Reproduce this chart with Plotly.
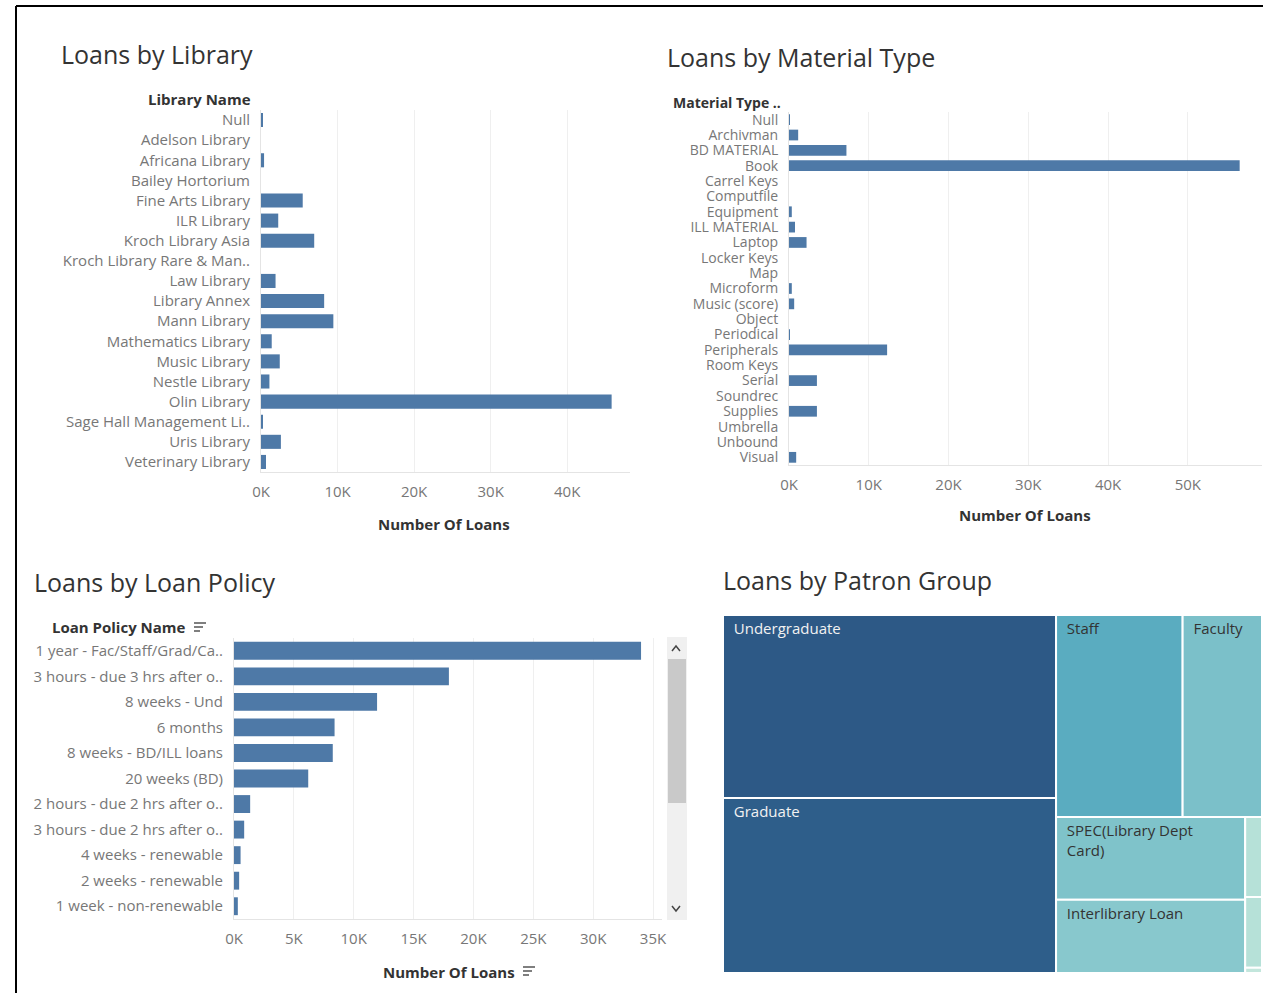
import plotly.graph_objects as go

W, H = 1263, 993
FONT = "Open Sans"

# ---------------- data ----------------
library_names = ["Null", "Adelson Library", "Africana Library", "Bailey Hortorium",
                 "Fine Arts Library", "ILR Library", "Kroch Library Asia",
                 "Kroch Library Rare & Man..", "Law Library", "Library Annex",
                 "Mann Library", "Mathematics Library", "Music Library",
                 "Nestle Library", "Olin Library", "Sage Hall Management Li..",
                 "Uris Library", "Veterinary Library"]
library_loans = [200, 0, 400, 0, 5450, 2250, 6950, 0, 1900, 8250, 9450, 1400,
                 2450, 1100, 45800, 250, 2600, 650]

material_types = ["Null", "Archivman", "BD MATERIAL", "Book", "Carrel Keys",
                  "Computfile", "Equipment", "ILL MATERIAL", "Laptop", "Locker Keys",
                  "Map", "Microform", "Music (score)", "Object", "Periodical",
                  "Peripherals", "Room Keys", "Serial", "Soundrec", "Supplies",
                  "Umbrella", "Unbound", "Visual"]
material_loans = [100, 1150, 7200, 56500, 0, 0, 350, 750, 2200, 0, 0, 350, 650,
                  0, 100, 12300, 0, 3500, 0, 3500, 0, 0, 900]

policy_names = ["1 year - Fac/Staff/Grad/Ca..", "3 hours - due 3 hrs after o..",
                "8 weeks - Und", "6 months", "8 weeks - BD/ILL loans",
                "20 weeks (BD)", "2 hours - due 2 hrs after o..",
                "3 hours - due 2 hrs after o..", "4 weeks - renewable",
                "2 weeks - renewable", "1 week - non-renewable"]
policy_loans = [34000, 17950, 11950, 8400, 8250, 6200, 1350, 850, 550, 430, 320]

patron_ids = ["Undergraduate", "Graduate", "Staff", "Faculty",
              "SPEC(Library Dept Card)", "Interlibrary Loan",
              "other_1", "other_2", "other_3"]
patron_text = ["Undergraduate", "Graduate", "Staff", "Faculty",
               "SPEC(Library Dept<br>Card)", "Interlibrary Loan", "", "", ""]
patron_loans = [28100, 26900, 11800, 7400, 7200, 6400, 620, 550, 40]
patron_colors = ["#2d5986", "#2e5e8a", "#5aacc0", "#7bc0c9", "#7fc3ca",
                 "#88c8cd", "#b6e1d8", "#b6e1d8", "#c3e6dc"]
patron_textcolors = ["#f2f2f2", "#f2f2f2", "#333333", "#333333", "#333333",
                     "#333333", "#333333", "#333333", "#333333"]

lib_ticks = [0, 10000, 20000, 30000, 40000]
lib_ticktext = ["0K", "10K", "20K", "30K", "40K"]
mat_ticks = [0, 10000, 20000, 30000, 40000, 50000]
mat_ticktext = ["0K", "10K", "20K", "30K", "40K", "50K"]
pol_ticks = [0, 5000, 10000, 15000, 20000, 25000, 30000, 35000]
pol_ticktext = ["0K", "5K", "10K", "15K", "20K", "25K", "30K", "35K"]

BAR = "#4e79a7"
GRID = "#efefef"
TICK_COL = "#777777"
DARK = "#333333"


def px(x):
    return x / W


def py(y):
    return 1 - y / H


fig = go.Figure()

for xs, ys, xa, ya in [(library_loans, library_names, "x", "y"),
                       (material_loans, material_types, "x2", "y2"),
                       (policy_loans, policy_names, "x3", "y3")]:
    fig.add_trace(go.Bar(x=xs, y=ys, orientation="h",
                         marker=dict(color=BAR, line=dict(width=0)),
                         xaxis=xa, yaxis=ya, hoverinfo="x+y"))

fig.add_trace(go.Treemap(ids=patron_ids, labels=patron_ids, parents=[""] * len(patron_ids),
                         values=patron_loans,
                         text=["\u00a0\u00a0" + t.replace("<br>", "<br>\u00a0\u00a0") if t else ""
                               for t in patron_text],
                         texttemplate="%{text}", textposition="top left",
                         textfont=dict(family=FONT, size=15, color=patron_textcolors),
                         marker=dict(colors=patron_colors, line=dict(color="white", width=2),
                                     pad=dict(t=0, l=0, r=0, b=0)),
                         tiling=dict(packing="squarify", squarifyratio=2, pad=0),
                         pathbar=dict(visible=False), root=dict(color="white"),
                         sort=True,
                         domain=dict(x=[px(723), px(1262)], y=[py(973), py(615)])))


def xax(domain, rng, tv, tt, y_anchor):
    return dict(domain=domain, range=rng, tickvals=tv, ticktext=tt, anchor=y_anchor,
                showgrid=True, gridcolor=GRID, gridwidth=1, zeroline=False,
                showline=True, linecolor="#e4e4e4", linewidth=1, ticks="",
                tickfont=dict(family=FONT, size=15, color=TICK_COL), ticklabelstandoff=6,
                fixedrange=True)


def yax(domain, cats, x_anchor, size=15):
    return dict(domain=domain, categoryorder="array", categoryarray=cats,
                tickmode="array", tickvals=cats, ticktext=cats,
                autorange="reversed", anchor=x_anchor, showgrid=False, zeroline=False,
                showline=True, linecolor="#e4e4e4", linewidth=1, ticks="",
                tickfont=dict(family=FONT, size=size, color=TICK_COL), ticklabelstandoff=7,
                fixedrange=True)


fig.update_layout(
    width=W, height=H, margin=dict(l=0, r=0, t=0, b=0, autoexpand=False),
    paper_bgcolor="white", plot_bgcolor="white", showlegend=False,
    font=dict(family=FONT, color=DARK),
    bargap=0.3,
    xaxis=xax([px(261), px(630)], [0, 48200], lib_ticks, lib_ticktext, "y"),
    yaxis=yax([py(472), py(110)], library_names, "x"),
    xaxis2=xax([px(789), px(1262)], [0, 59300], mat_ticks, mat_ticktext, "y2"),
    yaxis2=yax([py(465), py(112)], material_types, "x2", 14),
    xaxis3=xax([px(234), px(662)], [0, 35750], pol_ticks, pol_ticktext, "y3"),
    yaxis3=yax([py(919), py(638)], policy_names, "x3"),
)

ann = []


def text(x, y, s, size=14, color=DARK, anchor="left"):
    ann.append(dict(x=px(x), y=py(y), xref="paper", yref="paper", text=s,
                    showarrow=False, xanchor=anchor, yanchor="middle",
                    font=dict(family=FONT, size=size, color=color)))


# titles
text(59, 54, "Loans by Library", 25, DARK)
text(665, 57, "Loans by Material Type", 25, DARK)
text(32, 582, "Loans by Loan Policy", 25, DARK)
text(721, 580, "Loans by Patron Group", 25, DARK)
# headers
text(253, 99, "<b>Library Name</b>", 15, DARK, "right")
text(783, 102, "<b>Material Type ..</b>", 14, DARK, "right")
text(188, 627, "<b>Loan Policy Name</b>", 15, DARK, "right")
# axis titles
text(444, 524, "<b>Number Of Loans</b>", 15, DARK, "center")
text(1025, 515, "<b>Number Of Loans</b>", 15, DARK, "center")
text(449, 972, "<b>Number Of Loans</b>", 15, DARK, "center")

shapes = []
# outer frame (top and left)
shapes.append(dict(type="line", xref="paper", yref="paper", x0=px(16), x1=1, y0=py(6), y1=py(6),
                   line=dict(color="black", width=2)))
shapes.append(dict(type="line", xref="paper", yref="paper", x0=px(16), x1=px(16), y0=py(6), y1=0,
                   line=dict(color="black", width=2)))


def sort_icon(x, y):
    for i, ln in enumerate([12, 9, 6]):
        shapes.append(dict(type="line", xref="paper", yref="paper",
                           x0=px(x), x1=px(x + ln), y0=py(y - 4 + i * 4), y1=py(y - 4 + i * 4),
                           line=dict(color="#555555", width=1.5)))


sort_icon(194, 627)
sort_icon(523, 971)

# scrollbar
shapes.append(dict(type="rect", xref="paper", yref="paper", x0=px(667), x1=px(687),
                   y0=py(920), y1=py(637), fillcolor="#f0f0f0", line=dict(width=0)))
shapes.append(dict(type="rect", xref="paper", yref="paper", x0=px(668), x1=px(686),
                   y0=py(803), y1=py(659), fillcolor="#c9c9c9", line=dict(width=0)))
shapes.append(dict(type="path", xref="paper", yref="paper",
                   path=f"M {px(672)},{py(651)} L {px(676)},{py(646)} L {px(680)},{py(651)}",
                   line=dict(color="#444444", width=1.5)))
shapes.append(dict(type="path", xref="paper", yref="paper",
                   path=f"M {px(672)},{py(906)} L {px(676)},{py(911)} L {px(680)},{py(906)}",
                   line=dict(color="#444444", width=1.5)))

fig.update_layout(annotations=ann, shapes=shapes)

fig.write_html("out.html", config={"displayModeBar": False},
               post_script="document.body.style.margin='0';document.body.style.overflow='hidden';")
